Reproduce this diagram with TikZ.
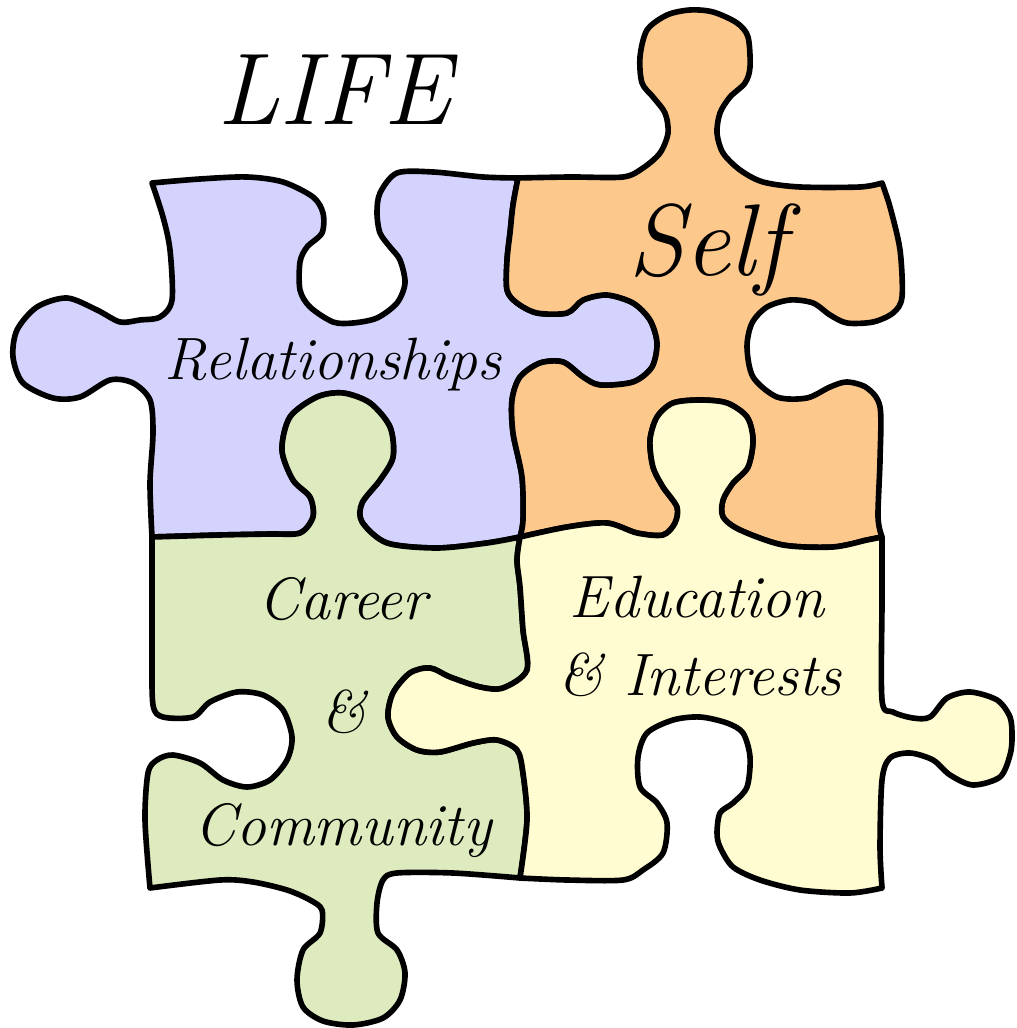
\documentclass[tikz,border=0pt]{standalone}
\usepackage{fontspec}
\usepackage{tikz}
\definecolor{relcol}{RGB}{211,211,253}
\definecolor{selfcol}{RGB}{253,200,140}
\definecolor{carcol}{RGB}{221,235,190}
\definecolor{educol}{RGB}{255,252,210}
\tikzset{
piece/.style={draw=black, line width=1.6pt, line join=round},
word/.style={anchor=base, inner sep=0pt, font=\fontsize{17}{20}\selectfont\itshape},
bigword/.style={anchor=base, inner sep=0pt, font=\fontsize{29}{32}\selectfont\itshape}
}
\begin{document}
\begin{tikzpicture}[x=0.1mm, y=-0.1mm]
\useasboundingbox (0,0) rectangle (1016,1028);

\filldraw[piece, fill=relcol]
plot[smooth] coordinates {(152,183) (200,179) (247,177) (283,182) (313,197) (323,213) (322,233) (307,247) (300,262) (300,290) (310,307) (333,322) (353,323) (377,318) (397,303) (405,283) (400,260) (390,247) (380,233) (377,213) (380,193) (397,173) (433,172) (483,177) (518,178)}
--plot[smooth] coordinates {(518,178) (513,205) (510,233) (507,260) (507,290) (517,303) (537,313) (567,313) (583,300) (607,295) (633,303) (650,320) (657,343) (652,367) (633,382) (600,385) (583,377) (563,362) (540,363) (520,377) (512,400) (513,433) (522,477) (523,520) (520,537)}
--plot[smooth] coordinates {(520,537) (487,543) (437,548) (387,543) (362,522) (362,503) (380,480) (393,457) (390,427) (370,403) (343,393) (317,397) (290,417) (282,450) (293,480) (310,497) (313,517) (300,533) (270,534) (220,535) (152,537)}
--plot[smooth] coordinates {(152,537) (150,483) (153,433) (150,400) (133,383) (110,380) (80,397) (53,398) (23,383) (13,357) (17,330) (37,307) (67,298) (97,310) (120,322) (140,320) (160,317) (172,300) (170,250) (163,217) (152,183)}
-- cycle;

\filldraw[piece, fill=selfcol]
plot[smooth] coordinates {(518,178) (570,177) (623,177) (643,168) (660,153) (668,133) (665,113) (653,97) (642,83) (640,57) (647,30) (667,15) (690,10) (713,12) (737,23) (748,37) (750,67) (745,83) (730,97) (720,113) (717,133) (723,153) (740,170) (763,182) (800,187) (860,187) (882,183)}
--plot[smooth] coordinates {(882,183) (890,207) (900,250) (902,297) (893,313) (873,322) (847,323) (830,315) (813,303) (790,300) (767,307) (752,323) (747,347) (753,377) (777,397) (807,398) (830,387) (847,382) (867,388) (880,407) (880,460) (878,517) (882,537)}
--plot[smooth] coordinates {(882,537) (867,540) (833,547) (783,545) (740,530) (723,517) (723,500) (733,483) (748,467) (753,440) (747,417) (727,403) (700,400) (673,403) (657,417) (650,440) (653,467) (663,487) (677,507) (675,523) (663,535) (637,533) (607,523) (567,527) (520,537)}
--plot[smooth] coordinates {(520,537) (523,520) (522,477) (513,433) (512,400) (520,377) (540,363) (563,362) (583,377) (600,385) (633,382) (652,367) (657,343) (650,320) (633,303) (607,295) (583,300) (567,313) (537,313) (517,303) (507,290) (507,260) (510,233) (513,205) (518,178)}
-- cycle;

\filldraw[piece, fill=carcol]
plot[smooth] coordinates {(152,537) (220,535) (270,534) (300,533) (313,517) (310,497) (293,480) (282,450) (290,417) (317,397) (343,393) (370,403) (390,427) (393,457) (380,480) (362,503) (362,522) (387,543) (437,548) (487,543) (520,537)}
--plot[smooth] coordinates {(520,537) (517,560) (520,587) (523,630) (527,670) (503,688) (480,687) (450,677) (430,668) (410,673) (393,693) (388,717) (397,737) (417,750) (440,752) (473,743) (497,740) (517,750) (523,773) (527,820) (520,878)}
--plot[smooth] coordinates {(520,878) (453,873) (397,873) (383,880) (377,903) (378,933) (397,950) (405,973) (400,1000) (383,1018) (353,1025) (323,1021) (303,1007) (297,980) (303,950) (320,933) (322,910) (310,900) (287,890) (253,882) (220,880) (150,888)}
--plot[smooth] coordinates {(150,888) (145,820) (148,773) (157,760) (173,755) (200,763) (223,780) (247,787) (270,780) (287,760) (292,737) (283,710) (263,695) (237,692) (210,702) (193,717) (163,717) (153,705) (152,653) (152,600) (152,537)}
-- cycle;

\filldraw[piece, fill=educol]
plot[smooth] coordinates {(520,537) (567,527) (607,523) (637,533) (663,535) (675,523) (677,507) (663,487) (653,467) (650,440) (657,417) (673,403) (700,400) (727,403) (747,417) (753,440) (748,467) (733,483) (723,500) (723,517) (740,530) (783,545) (833,547) (867,540) (882,537)}
--plot[smooth] coordinates {(882,537) (882,600) (882,700) (893,712) (913,718) (930,717) (947,698) (970,692) (997,700) (1010,717) (1012,737) (1010,755) (1000,777) (973,785) (950,775) (933,760) (910,753) (890,758) (882,780) (880,847) (882,888)}
--plot[smooth] coordinates {(882,888) (850,893) (800,890) (760,880) (733,867) (720,847) (717,833) (720,813) (733,803) (747,787) (750,757) (743,733) (727,723) (700,717) (673,720) (647,733) (638,757) (640,787) (657,803) (667,823) (663,853) (643,870) (623,880) (567,880) (520,878)}
--plot[smooth] coordinates {(520,878) (527,820) (523,773) (517,750) (497,740) (473,743) (440,752) (417,750) (397,737) (388,717) (393,693) (410,673) (430,668) (450,677) (480,687) (503,688) (527,670) (523,630) (520,587) (517,560) (520,537)}
-- cycle;

\node[bigword] (LIFE) at (334,125) {LIFE};
\node[bigword] (SELF) at (707,276) {Self};
\node[word] (REL) at (333,380) {Relationships};
\node[word] (CAR) at (343,620) {Career};
\node[word] (AMP) at (344,732) {\&};
\node[word] (COM) at (343,845) {Community};
\node[word] (EDU) at (697,618) {Education};
\node[word] (INT) at (700,695) {\& Interests};
\end{tikzpicture}
\end{document}
